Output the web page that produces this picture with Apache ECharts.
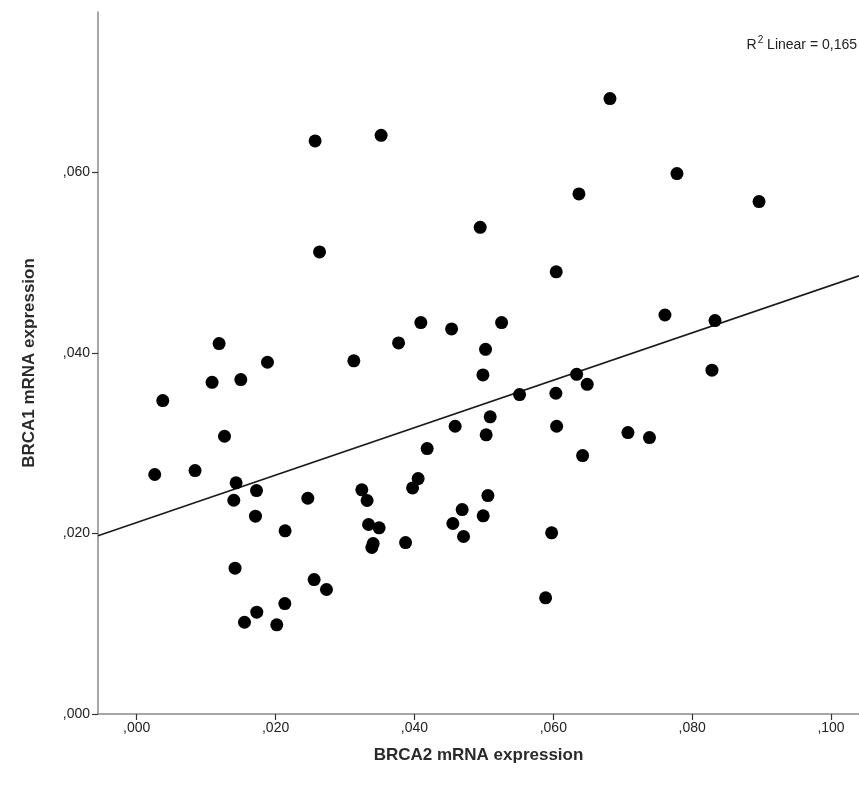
<!DOCTYPE html>
<html>
<head>
<meta charset="utf-8">
<script src="https://cdn.jsdelivr.net/npm/echarts@6/dist/echarts.min.js"></script>
<style>
  html, body { margin: 0; padding: 0; background: #fff; }
  #chart { width: 859px; height: 788px; }
</style>
</head>
<body>
<div id="chart"></div>
<script>
// BRCA2 (x) vs BRCA1 (y) mRNA expression
const brca2 = [
  0.01186, 0.01883, 0.03127, 0.01085, 0.01499, 0.00375, 0.01264, 0.00259, 0.0084, 0.01431,
  0.01725, 0.01398, 0.02464, 0.0171, 0.02137, 0.03242, 0.03318, 0.03339, 0.03491, 0.03405,
  0.03386, 0.01416, 0.02555, 0.02733, 0.02133, 0.01729, 0.01552, 0.02017, 0.02569, 0.0352,
  0.06369, 0.04947, 0.02633, 0.06042, 0.04092, 0.05255, 0.04535, 0.03771, 0.05024, 0.04986,
  0.06336, 0.06488, 0.05514, 0.06037, 0.05091, 0.04586, 0.05033, 0.06048, 0.04183, 0.06422,
  0.04053, 0.03973, 0.05058, 0.04687, 0.0499, 0.04553, 0.03872, 0.04707, 0.05976, 0.05889,
  0.06816, 0.07781, 0.08963, 0.07608, 0.08329, 0.08285, 0.07075, 0.07385
];
const brca1 = [
  0.04105, 0.03898, 0.03914, 0.03676, 0.03706, 0.03474, 0.03078, 0.02654, 0.02698, 0.02562,
  0.02476, 0.02369, 0.02391, 0.02192, 0.0203, 0.02484, 0.02366, 0.021, 0.02063, 0.01889,
  0.01845, 0.01616, 0.0149, 0.0138, 0.01224, 0.01128, 0.01017, 0.00988, 0.06351, 0.06413,
  0.05764, 0.05394, 0.05121, 0.049, 0.04338, 0.04338, 0.04268, 0.04113, 0.04042, 0.03758,
  0.03765, 0.03654, 0.0354, 0.03555, 0.03293, 0.03189, 0.03094, 0.03189, 0.02942, 0.02864,
  0.02609, 0.02506, 0.02421, 0.02266, 0.02196, 0.02111, 0.019, 0.01967, 0.02008, 0.01288,
  0.0682, 0.05989, 0.05679, 0.04422, 0.0436, 0.03811, 0.03119, 0.03064
];

// ticks shown on each axis
const xTicks = [0, 0.02, 0.04, 0.06, 0.08, 0.1];
const yTicks = [0, 0.02, 0.04, 0.06];

// axis ranges
const xRange = [-0.00558, 0.10403];
const yRange = [0, 0.0778];

// linear fit shown on the plot
const fitIntercept = 0.02123;
const fitSlope = 0.2627;
const rSquared = '0,165';

const fmt = v => v.toFixed(3).replace('0.', ',');

const points = brca2.map((x, i) => [x, brca1[i]]);
const fitLine = xRange.map(x => [x, fitIntercept + fitSlope * x]);

const font = '"Liberation Sans", Arial, sans-serif';

const chart = echarts.init(document.getElementById('chart'));
chart.setOption({
  animation: false,
  backgroundColor: '#fff',
  grid: { left: 98, right: 0, top: 12, bottom: 74 },
  xAxis: {
    type: 'value',
    min: xRange[0],
    max: xRange[1],
    name: 'BRCA2 mRNA expression',
    nameLocation: 'middle',
    nameGap: 33,
    nameTextStyle: { fontFamily: font, fontSize: 17, fontWeight: 'bold', color: '#2a2a2a' },
    axisLine: { show: true, onZero: false, lineStyle: { color: '#8a8a8a', width: 1.5 } },
    axisTick: { show: true, length: 6, customValues: xTicks, lineStyle: { color: '#333', width: 1.2 } },
    axisLabel: {
      customValues: xTicks, formatter: fmt, margin: 7,
      fontFamily: font, fontSize: 14, color: '#222'
    },
    splitLine: { show: false }
  },
  yAxis: {
    type: 'value',
    min: yRange[0],
    max: yRange[1],
    name: 'BRCA1 mRNA expression',
    nameLocation: 'middle',
    nameGap: 60,
    nameTextStyle: { fontFamily: font, fontSize: 17, fontWeight: 'bold', color: '#2a2a2a' },
    axisLine: { show: true, onZero: false, lineStyle: { color: '#8a8a8a', width: 1.5 } },
    axisTick: { show: true, length: 6, customValues: yTicks, lineStyle: { color: '#333', width: 1.2 } },
    axisLabel: {
      customValues: yTicks, formatter: fmt, margin: 8,
      fontFamily: font, fontSize: 14, color: '#222'
    },
    splitLine: { show: false }
  },
  graphic: [{
    type: 'text',
    right: 2,
    top: 35,
    style: {
      text: '{r|R}{s|2}{r| Linear = ' + rSquared + '}',
      rich: {
        r: { fontFamily: font, fontSize: 14, fill: '#222', verticalAlign: 'bottom', lineHeight: 17 },
        s: { fontFamily: font, fontSize: 10, fill: '#222', verticalAlign: 'top', lineHeight: 17, padding: [0, 0, 7, 1] }
      }
    }
  }],
  series: [
    {
      type: 'line',
      data: fitLine,
      symbol: 'none',
      silent: true,
      lineStyle: { color: '#1a1a1a', width: 1.6 },
      z: 1
    },
    {
      type: 'scatter',
      data: points,
      symbol: 'circle',
      symbolSize: 13,
      itemStyle: { color: '#000', opacity: 1 },
      z: 2
    }
  ]
});
</script>
</body>
</html>
